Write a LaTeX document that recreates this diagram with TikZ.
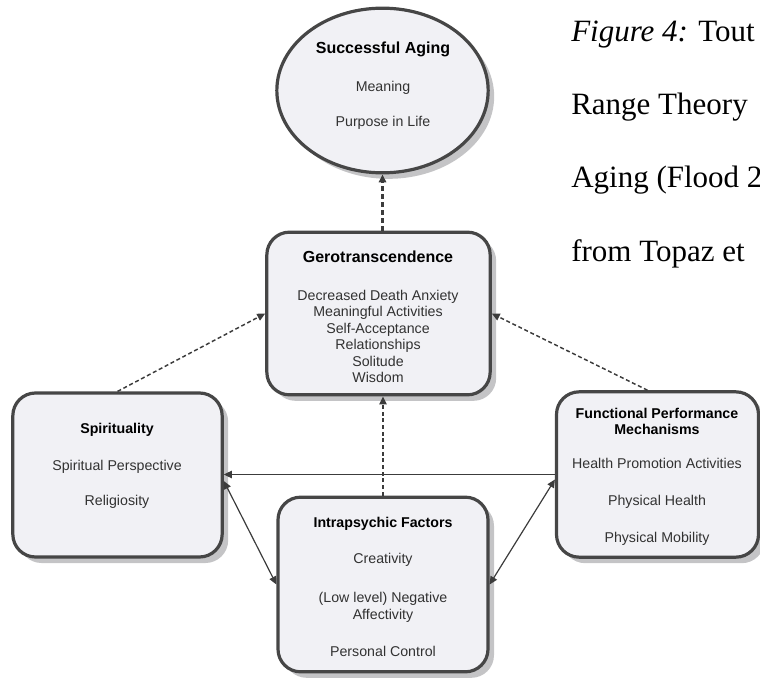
\documentclass[tikz,border=0pt]{standalone}
\usepackage{fontspec}
\setmainfont{Liberation Serif}
\setsansfont{Liberation Sans}
\usetikzlibrary{arrows.meta,shadows,calc,shapes.geometric}

\definecolor{boxfill}{RGB}{241,241,245}
\definecolor{boxline}{RGB}{70,70,70}
\definecolor{shadowgray}{RGB}{196,196,198}
\definecolor{linkgray}{RGB}{60,60,60}
\definecolor{bodytext}{RGB}{50,50,50}

\newcommand{\bodyfont}{\sffamily\fontsize{10.65pt}{12.3pt}\selectfont}
\newcommand{\headfont}{\sffamily\bfseries\fontsize{10.65pt}{12.3pt}\selectfont}
\newcommand{\bigheadfont}{\sffamily\bfseries\fontsize{12pt}{12.3pt}\selectfont}

\begin{document}
\begin{tikzpicture}[x=0.75pt,y=-0.75pt,
  panel/.style={rectangle, rounded corners=17pt, draw=boxline, line width=2.4pt,
    fill=boxfill, inner sep=0pt,
    drop shadow={shadow xshift=4.5pt, shadow yshift=-4.5pt, fill=shadowgray, opacity=1}},
  oval/.style={ellipse, draw=boxline, line width=2.4pt, fill=boxfill, inner sep=0pt,
    drop shadow={shadow xshift=4.5pt, shadow yshift=-4.5pt, fill=shadowgray, opacity=1}},
  txt/.style={align=center, inner sep=0pt, text=bodytext, font=\bodyfont},
  caption/.style={anchor=base west, inner sep=0pt, font=\fontsize{23.25pt}{28pt}\selectfont},
  tip/.style={-{Triangle[length=6pt,width=5.5pt]}},
  twotips/.style={{Triangle[length=6pt,width=5.5pt]}-{Triangle[length=6pt,width=5.5pt]}},
  dashlink/.style={draw=linkgray, line width=1.1pt, dash pattern=on 3pt off 2pt},
  heavydash/.style={draw=linkgray, line width=2pt, dash pattern=on 3.5pt off 2.5pt},
  solidlink/.style={draw=linkgray, line width=0.9pt}]

\useasboundingbox (0,0) rectangle (760,681);

% outcome at the top
\node[oval, minimum width=158.5pt, minimum height=123.5pt] (succ) at (382.5,90.5) {};
\node[txt] (succtext) at (383,86) {{\bigheadfont\color{black}Successful Aging}\\[16pt]
  Meaning\\[14pt] Purpose in Life};

% central concept
\node[panel, minimum width=167.5pt, minimum height=122pt] (gero) at (378.5,313.5) {};
\node[txt] (gerotext) at (378,317) {{\bigheadfont\color{black}Gerotranscendence}\\[16pt]
  Decreased Death Anxiety\\ Meaningful Activities\\ Self-Acceptance\\
  Relationships\\ Solitude\\ Wisdom};

% the three antecedent groups
\node[panel, minimum width=157pt, minimum height=123pt] (spirit) at (117.5,475) {};
\node[txt] (spirittext) at (117,466) {{\headfont\color{black}Spirituality}\\[15pt]
  Spiritual Perspective\\[14.5pt] Religiosity};

\node[panel, minimum width=151.5pt, minimum height=124pt] (func) at (657.5,474.5) {};
\node[txt] (functext) at (657,477) {{\headfont\color{black}Functional Performance}\\
  {\headfont\color{black}Mechanisms}\\[12.5pt]
  Health Promotion Activities\\[16pt] Physical Health\\[15.5pt] Physical Mobility};

\node[panel, minimum width=157.5pt, minimum height=131pt] (intra) at (383,584.5) {};
\node[txt] (intratext) at (383,587) {{\headfont\color{black}Intrapsychic Factors}\\[14.7pt]
  Creativity\\[17pt] (Low level) Negative\\ Affectivity\\[15.5pt] Personal Control};

% connectors
\draw[heavydash, tip] (succ.south |- gero.north) -- (succ.south);
\draw[dashlink, tip] (intra.north) -- (intra.north |- gero.south);
\draw[dashlink, tip] (spirit.north) -- (gero.west);
\draw[dashlink, tip] ([xshift=-7.5pt]func.north) -- (gero.east);
\draw[solidlink, tip] (func.west) -- (func.west -| spirit.east);
\draw[solidlink, twotips] ($(spirit.east)+(0,6)$) -- (intra.west);
\draw[solidlink, twotips] ($(func.west)+(0,5)$) -- (intra.east);

% caption running beside the figure
\node[caption] (cap1) at (571,42) {\textit{Figure 4:} Tout};
\node[caption] (cap2) at (571,115) {Range Theory};
\node[caption] (cap3) at (571,188) {Aging (Flood 2};
\node[caption] (cap4) at (571,261) {from Topaz et};
\end{tikzpicture}
\end{document}
